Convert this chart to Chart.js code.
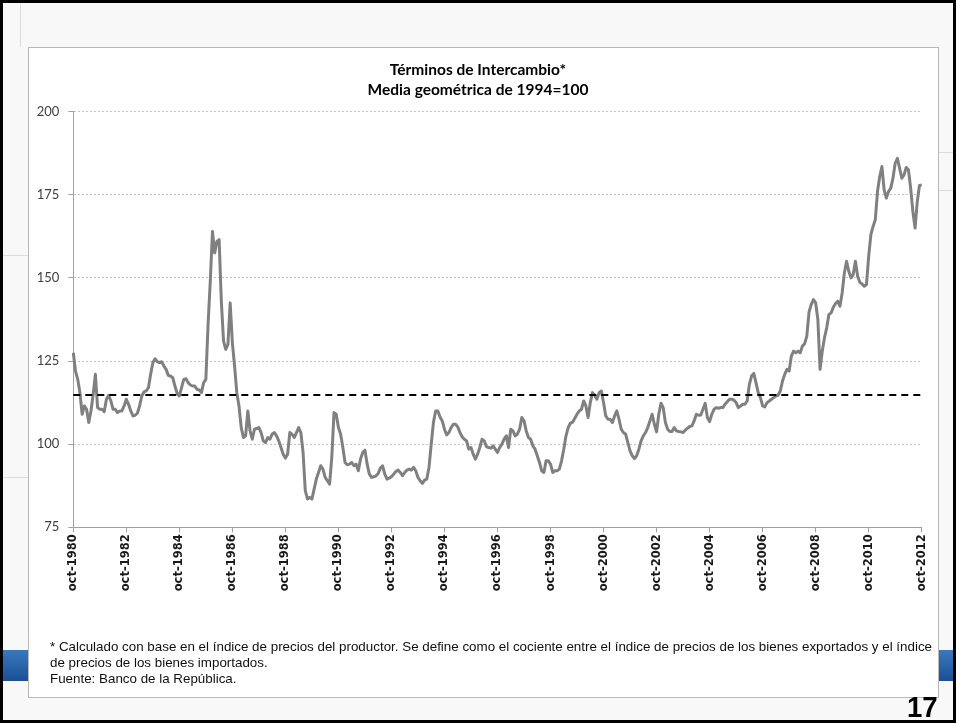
<!DOCTYPE html>
<html><head><meta charset="utf-8">
<script src="https://cdn.jsdelivr.net/npm/chart.js@4.4.1/dist/chart.umd.min.js"></script>
<style>
html,body{margin:0;padding:0;width:956px;height:723px;overflow:hidden;background:#f8f8f8;}
#frame{position:absolute;left:0;top:0;width:956px;height:723px;box-sizing:border-box;border:3px solid #000;z-index:10;pointer-events:none;}
.band{position:absolute;top:650px;height:31px;background:linear-gradient(#3a78be,#1b4f92);}
.faint{position:absolute;background:#dcdcdc;}
#box{position:absolute;left:28px;top:47px;width:911px;height:651px;background:#fff;border:1px solid #b8b8b8;box-sizing:border-box;}
#c{position:absolute;left:0;top:0;z-index:2;}
.foot{position:absolute;left:50px;font-family:"Liberation Sans Narrow","Liberation Sans",Arial,sans-serif;font-size:13px;line-height:16px;color:#111;white-space:nowrap;transform-origin:0 0;z-index:3;}
#pg{position:absolute;left:907px;top:692px;font:bold 30px/30px "Liberation Sans Narrow","Liberation Sans",Arial,sans-serif;color:#000;z-index:5;transform:scaleX(0.92);transform-origin:0 0;}
</style></head>
<body>
<div class="faint" style="left:20px;top:3px;width:1px;height:44px;"></div>
<div class="faint" style="left:3px;top:255px;width:25px;height:1px;"></div>
<div class="faint" style="left:3px;top:477px;width:25px;height:1px;"></div>
<div class="faint" style="left:939px;top:152px;width:14px;height:1px;"></div>
<div class="faint" style="left:939px;top:190px;width:14px;height:1px;"></div>
<div class="band" style="left:3px;width:26px;"></div>
<div class="band" style="left:938px;width:15px;"></div>
<div id="box"></div>
<canvas id="c" width="956" height="723"></canvas>
<div class="foot" id="f1" style="top:639px;">* Calculado con base en el índice de precios del productor. Se define como el cociente entre el índice de precios de los bienes exportados y el índice</div>
<div class="foot" id="f2" style="top:655px;">de precios de los bienes importados.</div>
<div class="foot" id="f3" style="top:671px;">Fuente: Banco de la República.</div>
<div id="pg">17</div>
<div id="frame"></div>
<script>
// Índice de términos de intercambio (media geométrica 1994 = 100), mensual desde oct-1980
const tot1980_1984 = [
  127.5,122,119.5,115.5,109,111.5,110.5,106.5,110,115,121,111,
  110.5,110.5,109.8,113.5,114.7,113,110.5,110.5,109.5,110,110,111.5,
  113.5,112,110,108.5,108.7,109.3,111.5,114.5,115.7,116,117,121,
  124.5,125.7,124.8,124.5,124.8,123.5,122.5,120.7,120.5,120,117.5,115.3
];
const tot1984_1988 = [
  114.5,117,119.5,119.7,118.5,117.8,117.5,117.5,116.5,116.3,115.5,118.5,
  119.5,136,149,164,157.5,161,161.5,143,131,128.5,130,142.5,
  130.5,123.5,115.5,111.5,105,102,102.5,110,104,101.5,104.5,104.7,
  105,103.5,101,100.5,102,101.5,103,103.5,102.5,101,99,97
];
const tot1988_1992 = [
  95.8,97,103.5,103,102,103.5,105,103.5,97.5,86,83.5,84,
  83.5,86.5,89.5,91.5,93.5,92.5,90,89,88,96,109.5,109,
  105,103,99,94.5,93.8,94,94.5,93.5,94,92,95.5,97.5,
  98.2,94,91,90,90.2,90.5,91.2,92.8,93.5,91,89.5,89.8
];
const tot1992_1996 = [
  90.2,91,91.8,92.2,91.5,90.5,91.5,92.2,92.5,92.2,93,92,
  90,89,88.2,89.2,89.5,93,100,106.5,110,110,108.2,107,
  104.5,102.8,103.5,105,106,106,105.2,103.5,102.2,101.5,101,98.5,
  99,97,95.5,97,99,101.5,101,99.2,99,98.8,99.5,98.5
];
const tot1996_2000 = [
  97.5,99,100,101.5,102.5,99,104.5,104,102.5,103,104.5,108,
  107,104,102,101.5,99.5,98.5,96.5,94.5,92,91.5,95,95,
  94,91.5,92,92,92.5,95,98.5,102.5,105,106.3,106.6,107.8,
  109,110,110.5,113,111.5,108,112.5,115.5,114.7,113.5,115.5,116
];
const tot2000_2004 = [
  112.5,108.5,107.5,107.5,106.5,108.5,110,107.5,104.5,103.5,103,100.5,
  98,96.5,95.7,96.5,98.5,101,102.5,103.5,105,107,109,106,
  103.7,109,112.3,111,106.5,104.5,103.8,103.8,105,104,103.8,103.7,
  103.5,104.2,104.8,105.3,105.5,107,109,108.7,108.8,110.5,112.3,108
];
const tot2004_2008 = [
  106.8,109,110.5,111,110.8,111,111,112,112.8,113.5,113.5,113.3,
  112.5,111,111.5,112,112,113,118,120.5,121.3,118.5,115.5,114,
  111.5,111.2,112.5,113,113.5,114,114.5,114.7,116,119,121,122.5,
  122,126.5,128,127.5,128,127.5,129.5,130.2,132.5,139.7,142,143.5
];
const tot2008_2012 = [
  142.5,137.5,122.5,128,132,135,139,139.5,141.2,142.3,143,141.5,
  145.5,151.5,155,152,150,151,155,150.5,148.7,148.2,147.5,148,
  156.5,163,165.5,167.5,176,180.5,183.5,176.5,174,176,177,180,
  184.5,186,183,180,181,183.2,182.5,177,170,165,173,177.8,
  178
];
const averageLevel = 114.8;

const monthAbbr = ['oct','nov','dic','ene','feb','mar','abr','may','jun','jul','ago','sep'];
const startYear = 1980;
const tickEvery = 24;

const values = [].concat(tot1980_1984, tot1984_1988, tot1988_1992, tot1992_1996,
                         tot1996_2000, tot2000_2004, tot2004_2008, tot2008_2012);
const labels = values.map((v, i) => monthAbbr[i % 12] + '-' + (startYear + Math.floor((9 + i) / 12)));

new Chart(document.getElementById('c').getContext('2d'), {
  type: 'line',
  data: {
    labels: labels,
    datasets: [
      {
        label: 'Promedio',
        data: [{x: labels[0], y: averageLevel}, {x: labels[labels.length - 1], y: averageLevel}],
        borderColor: '#000', borderWidth: 2, borderDash: [7, 5],
        pointRadius: 0, fill: false, order: 0
      },
      {
        label: 'Términos de intercambio',
        data: values,
        borderColor: '#808080', borderWidth: 3, borderJoinStyle: 'round',
        pointRadius: 0, tension: 0, fill: false, order: 1
      }
    ]
  },
  options: {
    responsive: false, animation: false, devicePixelRatio: 1,
    layout: {padding: {left: 34.3, right: 34.3, top: 60, bottom: 115.7}},
    plugins: {
      legend: {display: false},
      tooltip: {enabled: false},
      title: {
        display: true,
        text: ['Términos de Intercambio*', 'Media geométrica de 1994=100'],
        color: '#000',
        font: {family: 'Lato', size: 15.5, weight: 'bold', lineHeight: '20px'},
        padding: {top: 0, bottom: 11.7}
      }
    },
    scales: {
      x: {
        type: 'category', offset: false,
        afterFit: s => { s.height = 80; },
        afterBuildTicks: s => { s.ticks = s.ticks.filter(t => t.value % tickEvery === 0); },
        ticks: {autoSkip: false, maxRotation: 90, minRotation: 90, padding: 2, color: '#1a1a1a',
                font: {family: 'DejaVu Sans', size: 11.5, weight: 'bold'}},
        grid: {drawOnChartArea: false, drawTicks: true, tickLength: 5, tickColor: '#a0a0a0'},
        border: {color: '#a0a0a0', width: 1}
      },
      y: {
        min: 75, max: 200,
        afterFit: s => { s.width = 39; },
        ticks: {stepSize: 25, padding: 9, color: '#404040', font: {family: 'Lato', size: 13}},
        grid: {color: '#c4c4c4', tickColor: '#a0a0a0', tickLength: 5, tickBorderDash: []},
        border: {color: '#a0a0a0', width: 1, dash: [2, 2]}
      }
    }
  }
});

// fit the footnote to the width it occupies in the slide
(function () {
  const f1 = document.getElementById('f1');
  const w = f1.getBoundingClientRect().width;
  const k = 882 / w;
  ['f1', 'f2', 'f3'].forEach(id => { document.getElementById(id).style.transform = 'scaleX(' + k + ')'; });
})();
</script>
</body></html>
